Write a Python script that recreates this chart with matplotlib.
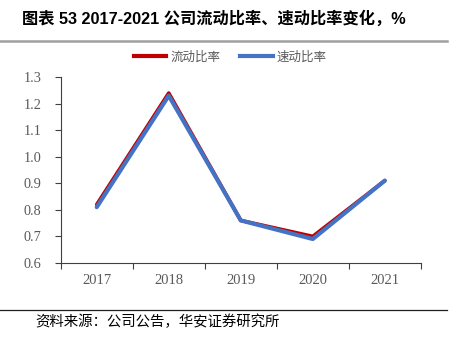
import matplotlib.pyplot as plt
from matplotlib.lines import Line2D

plt.rcParams['font.family'] = ['Liberation Serif', 'Noto Sans CJK SC']

# Data
years = ['2017', '2018', '2019', '2020', '2021']
current_ratio = [0.82, 1.24, 0.76, 0.70, 0.91]
quick_ratio = [0.81, 1.23, 0.76, 0.69, 0.91]
yticks = [0.6, 0.7, 0.8, 0.9, 1.0, 1.1, 1.2, 1.3]

fig = plt.figure(figsize=(4.53, 3.41), dpi=100)
ax = fig.add_axes([0.134, 0.229, 0.795, 0.545])

x = list(range(len(years)))
ax.plot(x, current_ratio, color='#C00000', linewidth=2.6, label='流动比率', solid_capstyle='round')
ax.plot(x, quick_ratio, color='#4472C4', linewidth=3.0, label='速动比率', solid_capstyle='round')

ax.set_xlim(-0.5, len(years) - 0.5)
ax.set_ylim(0.6, 1.3)
ax.set_yticks(yticks)
ax.set_yticklabels([f'{v:.1f}' for v in yticks], fontsize=10.3, color='#595959')
ax.tick_params(axis='y', length=4, direction='out', color='#404040', pad=10)

# category labels centred, tick marks between categories
ax.set_xticks([i + 0.5 for i in range(-1, len(years))])
ax.set_xticklabels([])
ax.set_xticks(x, minor=True)
ax.set_xticklabels(years, minor=True, fontsize=10.5, color='#595959')
ax.tick_params(axis='x', which='major', length=4, direction='out', color='#404040')
ax.tick_params(axis='x', which='minor', length=0, pad=8)

for s in ['top', 'right']:
    ax.spines[s].set_visible(False)
for s in ['left', 'bottom']:
    ax.spines[s].set_color('#404040')
    ax.spines[s].set_linewidth(0.8)

handles = [Line2D([], [], color='#C00000', linewidth=3),
           Line2D([], [], color='#4472C4', linewidth=3)]
fig.legend(handles, ['流动比率', '速动比率'], loc='center', bbox_to_anchor=(0.508, 0.833),
           ncol=2, frameon=False, handlelength=2.6, columnspacing=1.6, handletextpad=0.3,
           prop={'family': ['Noto Sans CJK SC'], 'size': 9}, labelcolor='#595959')

# header and footer
fig.text(0.048, 0.947, '图表 53 2017-2021 公司流动比率、速动比率变化，%', fontsize=11.7,
         fontweight='bold', family=['Liberation Sans', 'Noto Sans CJK SC'], va='center')
fig.add_artist(Line2D([0.0, 0.987], [0.879, 0.879], color='#A0A0A0', linewidth=1.8))
fig.add_artist(Line2D([0.0, 0.987], [0.091, 0.091], color='#202020', linewidth=0.9))
fig.text(0.077, 0.056, '资料来源：公司公告，华安证券研究所', fontsize=10.4,
         family=['Noto Sans CJK SC'], va='center')

plt.savefig('out.png', dpi=100)
